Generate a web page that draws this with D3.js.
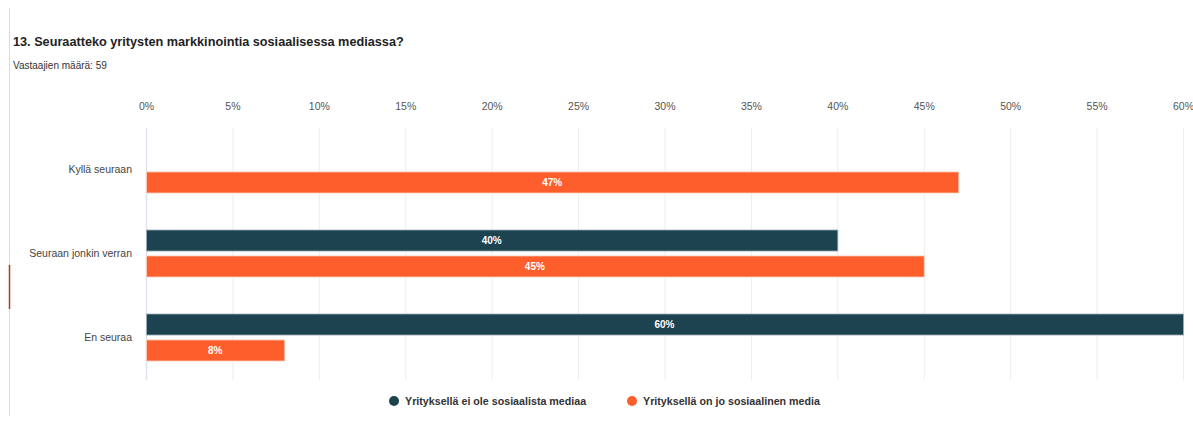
<!DOCTYPE html>
<html>
<head>
<meta charset="utf-8">
<script src="https://cdn.jsdelivr.net/npm/d3@7"></script>
<style>
  body { margin: 0; background: #fff; }
  svg { display: block; font-family: "Liberation Sans", Arial, sans-serif; }
</style>
</head>
<body>
<svg id="chart" width="1193" height="421"></svg>
<script>
// kysymys 13 - vastaukset prosentteina
var categories = ["Kyllä seuraan", "Seuraan jonkin verran", "En seuraa"];
var seriesNames = ["Yrityksellä ei ole sosiaalista mediaa", "Yrityksellä on jo sosiaalinen media"];
var noSocial = [0, 40, 60];
var hasSocial = [47, 45, 8];
var ticks = [0, 5, 10, 15, 20, 25, 30, 35, 40, 45, 50, 55, 60];
var colors = ["#1d4250", "#fd5e2c"];

var svg = d3.select("#chart");

// reunaviiva vasemmalla
svg.append("line").attr("x1", 9.5).attr("x2", 9.5).attr("y1", 8).attr("y2", 416)
  .attr("stroke", "#dcdcdc");
svg.append("line").attr("x1", 9.5).attr("x2", 9.5).attr("y1", 265).attr("y2", 309)
  .attr("stroke", "#b5391f").attr("stroke-width", 1.5);

svg.append("text").attr("x", 13).attr("y", 46)
  .attr("font-size", 12.7).attr("font-weight", "bold").attr("fill", "#222")
  .text("13. Seuraatteko yritysten markkinointia sosiaalisessa mediassa?");
svg.append("text").attr("x", 13).attr("y", 69)
  .attr("font-size", 10).attr("fill", "#333")
  .text("Vastaajien määrä: 59");

var x = d3.scaleLinear().domain([0, 60]).range([146, 1183]);
var y = d3.scaleBand().domain(categories).range([128, 380]);
var inner = d3.scaleBand().domain([0, 1]).range([-24, 23]).paddingInner(0.19);

var xAxis = d3.axisTop(x).tickValues(ticks).tickFormat(function(d) { return d + "%"; }).tickSize(0);
var gx = svg.append("g").attr("transform", "translate(0,113)").call(xAxis);
gx.select(".domain").remove();
gx.selectAll("text").attr("font-size", 10.5).attr("fill", "#555").attr("font-family", "inherit");

svg.append("g").selectAll("line").data(ticks).enter().append("line")
  .attr("x1", function(d) { return x(d) + 0.5; })
  .attr("x2", function(d) { return x(d) + 0.5; })
  .attr("y1", 128).attr("y2", 380)
  .attr("stroke", function(d) { return d === 0 ? "#dfe3ec" : "#ececec"; })
  .attr("stroke-width", function(d) { return d === 0 ? 1.5 : 1; });

var yAxis = d3.axisLeft(y).tickSize(0).tickPadding(0);
var gy = svg.append("g").attr("transform", "translate(132,0)").call(yAxis);
gy.select(".domain").remove();
gy.selectAll("text").attr("font-size", 10.5).attr("fill", "#444").attr("font-family", "inherit");

var rows = categories.map(function(c, i) { return { cat: c, vals: [noSocial[i], hasSocial[i]] }; });

var groups = svg.append("g").selectAll("g").data(rows).enter().append("g")
  .attr("transform", function(d) { return "translate(0," + (y(d.cat) + y.bandwidth() / 2) + ")"; });

var bars = groups.selectAll("g").data(function(d) {
    return d.vals.map(function(v, s) { return { v: v, s: s }; }).filter(function(d) { return d.v > 0; });
  }).enter().append("g");

bars.append("rect")
  .attr("x", x(0) + 0.5)
  .attr("y", function(d) { return inner(d.s); })
  .attr("width", function(d) { return x(d.v) - x(0); })
  .attr("height", inner.bandwidth())
  .attr("fill", function(d) { return colors[d.s]; })
  .attr("stroke", function(d) { return d.s === 0 ? "#9fb0b8" : "#fbd0c0"; })
  .attr("stroke-width", 0.8);

bars.append("text")
  .attr("x", function(d) { return (x(0) + x(d.v)) / 2; })
  .attr("y", function(d) { return inner(d.s) + inner.bandwidth() / 2 + 3.5; })
  .attr("text-anchor", "middle").attr("font-size", 10).attr("font-weight", "bold")
  .attr("fill", "#fff")
  .text(function(d) { return d.v + "%"; });

var legendX = [394, 632];
var legend = svg.append("g").selectAll("g").data(seriesNames).enter().append("g")
  .attr("transform", function(d, i) { return "translate(" + legendX[i] + ",401)"; });
legend.append("circle").attr("r", 5).attr("fill", function(d, i) { return colors[i]; });
legend.append("text").attr("x", 11).attr("y", 3.5)
  .attr("font-size", 10.7).attr("font-weight", "bold").attr("fill", "#333")
  .text(function(d) { return d; });
</script>
</body>
</html>
